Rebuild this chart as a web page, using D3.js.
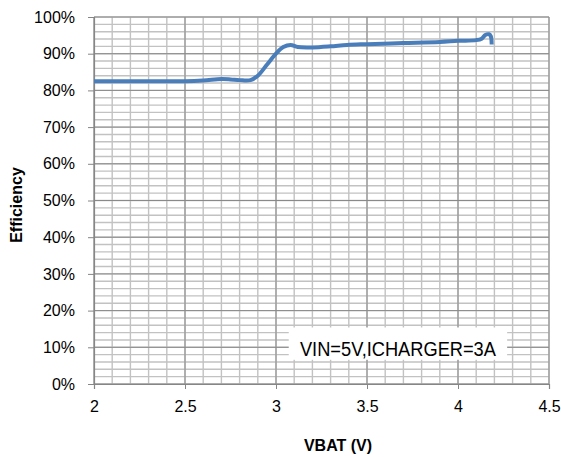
<!DOCTYPE html>
<html><head><meta charset="utf-8">
<script src="https://cdn.jsdelivr.net/npm/d3@7"></script>
<style>body{margin:0;background:#fff}svg{display:block}text{font-family:"Liberation Sans",Arial,sans-serif;fill:#000}</style>
</head><body>
<svg id="c" width="561" height="457"></svg>
<script>
const vbat = [2.00,2.20,2.40,2.50,2.60,2.70,2.75,2.80,2.86,2.90,2.95,3.00,3.04,3.08,3.12,3.20,3.30,3.39,3.50,3.70,3.90,4.00,4.10,4.13,4.15,4.17,4.18,4.185];
const eff  = [82.5,82.5,82.5,82.5,82.7,83.1,83.0,82.8,82.8,84.0,87.0,90.0,91.8,92.4,91.8,91.7,92.0,92.4,92.6,92.9,93.2,93.5,93.7,94.1,95.1,95.3,94.8,92.5];
const xTicks = [2,2.5,3,3.5,4,4.5];
const yTicks = [0,10,20,30,40,50,60,70,80,90,100];
const label = "VIN=5V,ICHARGER=3A";

const svg = d3.select("#c");
const L=94,R=549,T=17,B=384;
const x = d3.scaleLinear().domain([2,4.5]).range([L,R]);
const y = d3.scaleLinear().domain([0,100]).range([B,T]);

// minor grid
const g = svg.append("g");
g.selectAll(".mx").data(d3.range(2,4.5001,0.1)).join("line")
 .attr("x1",d=>x(d)).attr("x2",d=>x(d)).attr("y1",T).attr("y2",B)
 .attr("stroke","#c2c2c2").attr("stroke-width",1.4);
g.selectAll(".my").data(d3.range(0,100.001,2)).join("line")
 .attr("y1",d=>y(d)).attr("y2",d=>y(d)).attr("x1",L).attr("x2",R)
 .attr("stroke","#c2c2c2").attr("stroke-width",1.4);
// major grid
g.selectAll(".Mx").data(xTicks).join("line")
 .attr("x1",d=>x(d)).attr("x2",d=>x(d)).attr("y1",T).attr("y2",B)
 .attr("stroke","#8a8a8a").attr("stroke-width",1);
g.selectAll(".My").data(yTicks).join("line")
 .attr("y1",d=>y(d)).attr("y2",d=>y(d)).attr("x1",L).attr("x2",R)
 .attr("stroke","#8a8a8a").attr("stroke-width",1);

// axes
const xa = svg.append("g").attr("transform",`translate(0,${B})`)
 .call(d3.axisBottom(x).tickValues(xTicks).tickSize(5).tickPadding(12).tickFormat(d=>d3.format("")(d)));
const ya = svg.append("g").attr("transform",`translate(${L},0)`)
 .call(d3.axisLeft(y).tickValues(yTicks).tickSize(6).tickPadding(13).tickFormat(d=>d+"%"));
[xa,ya].forEach(a=>{
  a.select(".domain").attr("stroke","#868686").attr("stroke-width",1.2);
  a.selectAll(".tick line").attr("stroke","#868686");
  a.selectAll("text").attr("font-size",16).attr("font-family","Liberation Sans, Arial, sans-serif").attr("fill","#000");
});

// annotation box
const bx = svg.append("g");
bx.append("rect").attr("x",x(3.07)).attr("y",y(15.4)).attr("width",x(4.27)-x(3.07)).attr("height",y(6.6)-y(15.4)).attr("fill","#fff");
bx.append("text").attr("x",(x(3.07)+x(4.27))/2).attr("y",y(7.7)).attr("text-anchor","middle")
 .attr("font-size",19.5).attr("textLength",196).attr("lengthAdjust","spacingAndGlyphs").text(label);

// line
const line = d3.line().x((d,i)=>x(vbat[i])).y(d=>y(d)).curve(d3.curveCatmullRom.alpha(0.5));
svg.append("path").datum(eff).attr("d",line).attr("fill","none")
 .attr("stroke","#4a7ebb").attr("stroke-width",4).attr("stroke-linejoin","round").attr("stroke-linecap","butt");

// titles
svg.append("text").attr("x",338).attr("y",451).attr("text-anchor","middle")
 .attr("font-size",16).attr("font-weight","bold").text("VBAT (V)");
svg.append("text").attr("transform","translate(22,205) rotate(-90)").attr("text-anchor","middle")
 .attr("font-size",16).attr("font-weight","bold").text("Efficiency");
</script>
</body></html>
